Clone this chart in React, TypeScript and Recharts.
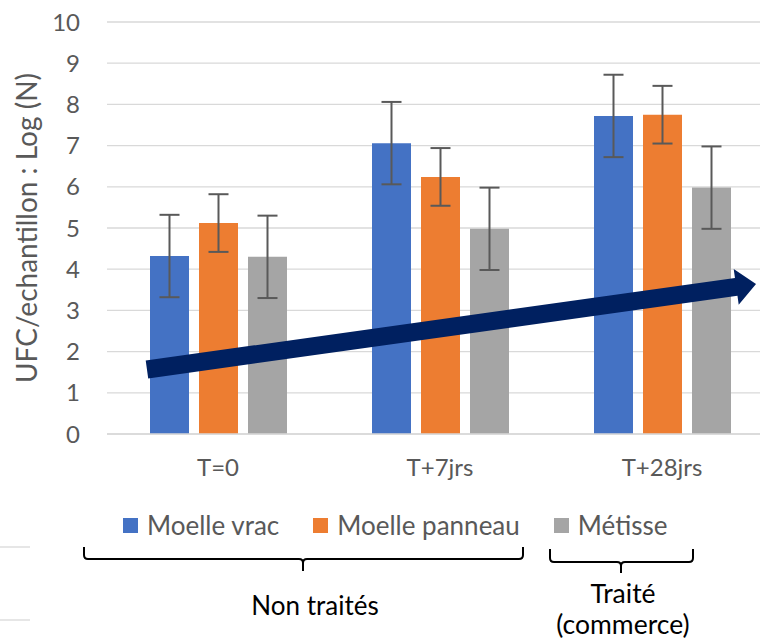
import { BarChart, Bar, XAxis, YAxis, CartesianGrid, ErrorBar, ReferenceLine } from 'recharts';

// Données
const categories = ['T=0', 'T+7jrs', 'T+28jrs'];
const moelleVrac = [4.32, 7.06, 7.72];
const moellePanneau = [5.12, 6.24, 7.75];
const metisse = [4.3, 4.98, 5.98];
const errVrac = [1.0, 1.0, 1.0];
const errPanneau = [0.7, 0.7, 0.7];
const errMetisse = [1.0, 1.0, 1.0];
const yTicks = [0, 1, 2, 3, 4, 5, 6, 7, 8, 9, 10];

const series = [
  { key: 'vrac', name: 'Moelle vrac', color: '#4472C4', values: moelleVrac, err: errVrac },
  { key: 'panneau', name: 'Moelle panneau', color: '#ED7D31', values: moellePanneau, err: errPanneau },
  { key: 'metisse', name: 'Métisse', color: '#A5A5A5', values: metisse, err: errMetisse },
];

// Flèche de tendance (axe x numérique caché 0..2 sur la largeur du tracé)
const arrowX = [0.12, 1.949];
const arrowY = [1.566, 3.64];

const data = categories.map((cat, i) => {
  const row: Record<string, number | string> = { cat };
  for (const s of series) {
    row[s.key] = s.values[i];
    row[`${s.key}_err`] = s.err[i];
  }
  return row;
});

const FONT = 'Lato, "Liberation Sans", sans-serif';
const GRID = '#d9d9d9';
const TEXT = '#595959';

function ArrowShape(props: any) {
  const { x1, y1, x2, y2 } = props;
  const dx = x2 - x1;
  const dy = y2 - y1;
  const len = Math.hypot(dx, dy);
  const ux = dx / len;
  const uy = dy / len;
  const nx = -uy;
  const ny = ux;
  const head = 20;
  const shaft = 9;
  const barb = 18;
  const bx = x2 - ux * head;
  const by = y2 - uy * head;
  const pts = [
    [x1 + nx * shaft, y1 + ny * shaft],
    [bx + nx * shaft, by + ny * shaft],
    [bx + nx * barb, by + ny * barb],
    [x2, y2],
    [bx - nx * barb, by - ny * barb],
    [bx - nx * shaft, by - ny * shaft],
    [x1 - nx * shaft, y1 - ny * shaft],
  ];
  return <polygon points={pts.map((p) => p.join(',')).join(' ')} fill="#002060" />;
}

function YLabel(props: any) {
  const { viewBox } = props;
  const cx = 37;
  const cy = viewBox.y + viewBox.height / 2;
  return (
    <text
      x={cx}
      y={cy}
      transform={`rotate(-90 ${cx} ${cy})`}
      textAnchor="middle"
      fill={TEXT}
      fontSize={28}
      fontFamily={FONT}
    >
      UFC/echantillon : Log (N)
    </text>
  );
}

export default function App() {
  return (
    <div style={{ position: 'absolute', left: 0, top: 0, width: 760, height: 641, overflow: 'hidden', background: '#fff', fontFamily: FONT }}>
      <BarChart width={780} height={500} data={data} margin={{ top: 22, right: 7, left: 0, bottom: 0 }} barSize={39} barGap={10}>
        <CartesianGrid vertical={false} stroke={GRID} strokeWidth={1.3} />
        <XAxis
          dataKey="cat"
          height={66}
          axisLine={{ stroke: GRID, strokeWidth: 1.3 }}
          tickLine={false}
          tickMargin={19}
          tick={{ fill: TEXT, fontSize: 24, fontFamily: FONT }}
        />
        <XAxis xAxisId="arrow" type="number" domain={[0, 2]} allowDataOverflow hide />
        <YAxis
          width={107}
          domain={[0, 10]}
          ticks={yTicks}
          interval={0}
          axisLine={false}
          tickLine={false}
          tickMargin={21}
          tick={{ fill: TEXT, fontSize: 24, fontFamily: FONT }}
          label={{ content: (p: any) => <YLabel {...p} /> }}
        />
        {series.map((s) => (
          <Bar key={s.key} dataKey={s.key} name={s.name} fill={s.color} isAnimationActive={false}>
            <ErrorBar dataKey={`${s.key}_err`} width={10} stroke="#595959" strokeWidth={2} />
          </Bar>
        ))}
        <ReferenceLine
          xAxisId="arrow"
          ifOverflow="visible"
          segment={[
            { x: arrowX[0], y: arrowY[0] },
            { x: arrowX[1], y: arrowY[1] },
          ]}
          shape={(p: any) => <ArrowShape {...p} />}
        />
      </BarChart>

      {/* Légende */}
      <div style={{ position: 'absolute', left: 123, top: 508, display: 'flex', alignItems: 'center', gap: 34 }}>
        {series.map((s) => (
          <div key={s.key} style={{ display: 'flex', alignItems: 'center', gap: 9 }}>
            <span style={{ width: 15, height: 15, background: s.color, display: 'inline-block' }} />
            <span style={{ fontSize: 26, color: TEXT, lineHeight: '34px' }}>{s.name}</span>
          </div>
        ))}
      </div>

      {/* Accolades */}
      <svg width={760} height={641} style={{ position: 'absolute', left: 0, top: 0, pointerEvents: 'none' }}>
        <line x1={0} y1={547} x2={30} y2={547} stroke={GRID} strokeWidth={1.3} />
        <line x1={0} y1={620} x2={30} y2={620} stroke={GRID} strokeWidth={1.3} />
        <path
          d="M84,547 L84,555 Q84,559 88,559 L299,559 Q303,559 303,563 L303,571 M303,563 Q303,559 307,559 L519,559 Q523,559 523,555 L523,547"
          fill="none" stroke="#000" strokeWidth={2}
        />
        <path
          d="M550,549 L550,558 Q550,562 554,562 L617,562 Q621,562 621,566 L621,573 M621,566 Q621,562 625,562 L689,562 Q693,562 693,558 L693,549"
          fill="none" stroke="#000" strokeWidth={2}
        />
        <text x={315} y={615} textAnchor="middle" fontSize={26} fontFamily={FONT} fill="#000">Non traités</text>
        <text x={623} y={603} textAnchor="middle" fontSize={26.5} fontFamily={FONT} fill="#000">Traité</text>
        <text x={623} y={634} textAnchor="middle" fontSize={26.5} fontFamily={FONT} fill="#000">(commerce)</text>
      </svg>
    </div>
  );
}
